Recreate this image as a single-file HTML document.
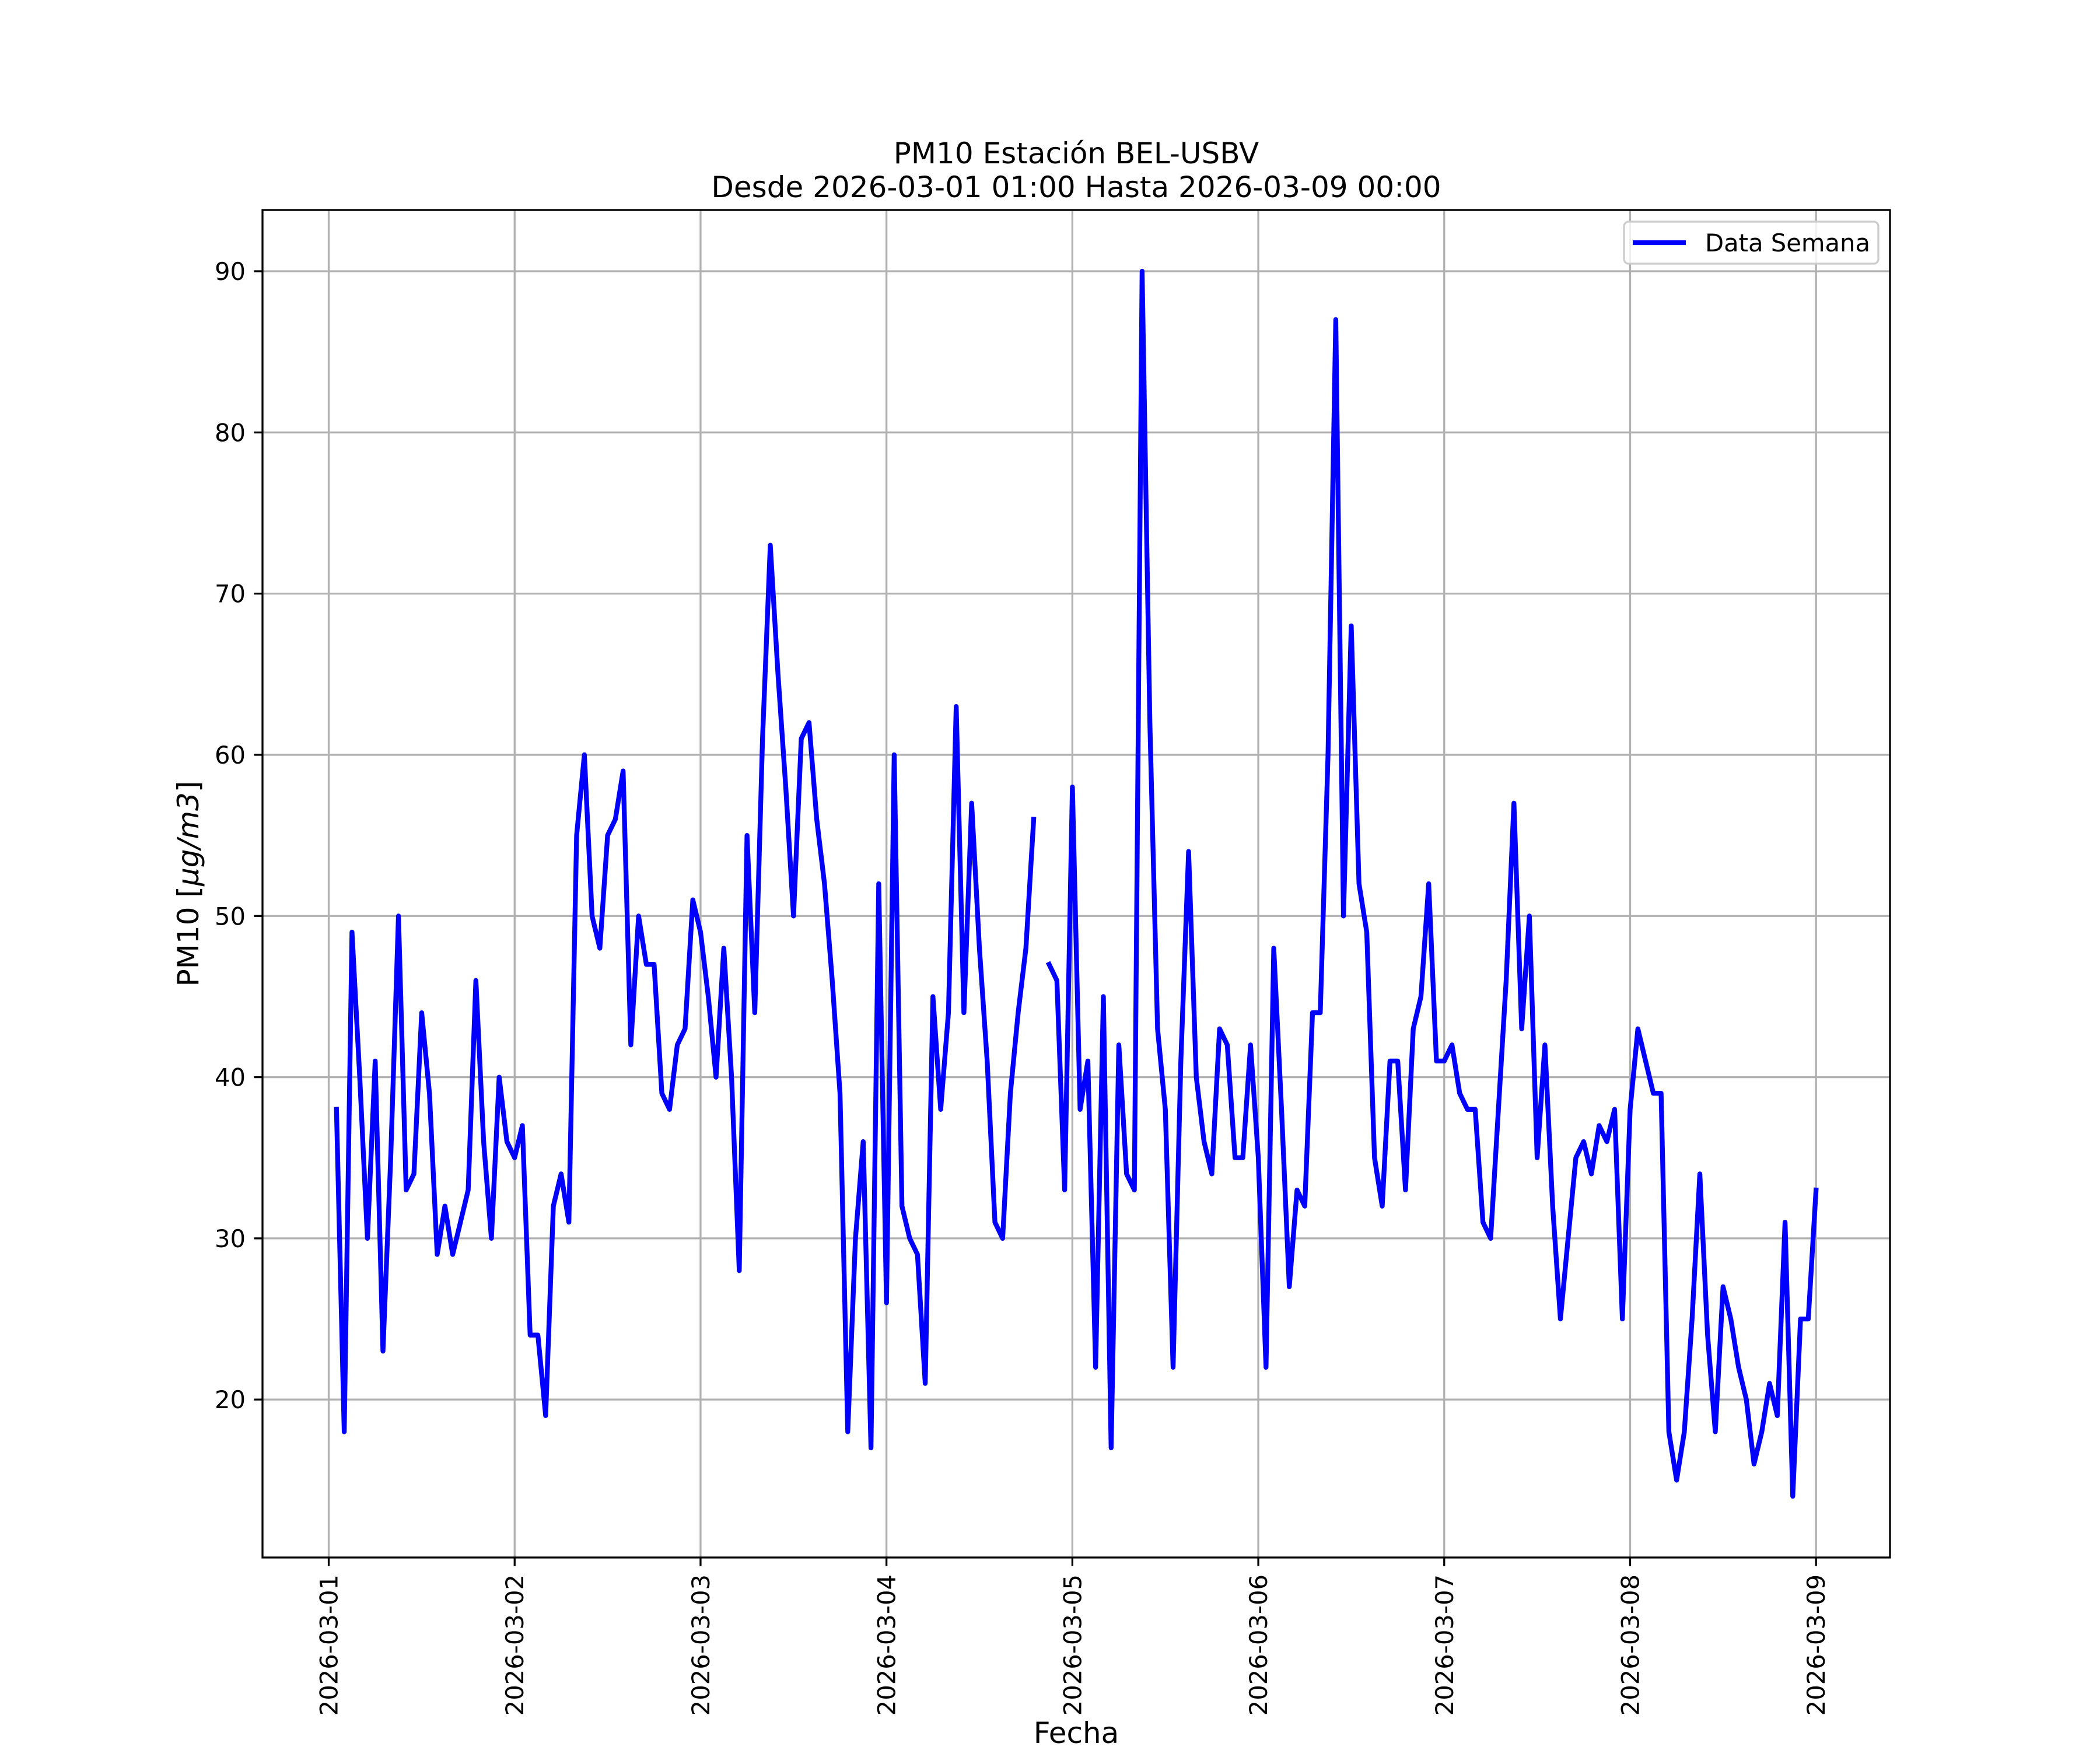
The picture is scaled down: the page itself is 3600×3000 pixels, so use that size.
<!DOCTYPE html>
<html><head><meta charset="utf-8"><style>
html,body{margin:0;padding:0;background:#fff;}
svg{display:block;font-family:"DejaVu Sans","Liberation Sans",sans-serif;}
</style></head><body>
<svg id="chart" width="3600" height="3000" viewBox="0 0 3600 3000" xmlns="http://www.w3.org/2000/svg">
<rect x="0" y="0" width="3600" height="3000" fill="#fff"/>
<g id="grid"></g>
<g id="series"></g>
<g id="axes"></g>
<text x="1845" y="280" font-size="50" text-anchor="middle">PM10 Estación BEL-USBV</text>
<text x="1845" y="338" font-size="50" text-anchor="middle">Desde 2026-03-01 01:00 Hasta 2026-03-09 00:00</text>
<text x="1845" y="2988" font-size="50" text-anchor="middle">Fecha</text>
<text transform="translate(340,1515) rotate(-90)" font-size="50" text-anchor="middle">PM10 [<tspan font-style="italic">μg/m3</tspan>]</text>
<g>
<rect x="2784" y="380" width="436" height="72" rx="8" fill="#fff" fill-opacity="0.8" stroke="#cccccc" stroke-width="3.3"/>
<line x1="2799" y1="416" x2="2890" y2="416" stroke="#0000ff" stroke-width="8.3"/>
<text x="2923" y="431" font-size="41.7">Data Semana</text>
</g>
</svg>
<script>
const yTicks=[20,30,40,50,60,70,80,90];
const xTickLabels=["2026-03-01","2026-03-02","2026-03-03","2026-03-04","2026-03-05","2026-03-06","2026-03-07","2026-03-08","2026-03-09"];
const startHour=1;
const pm10Values=[38,18,49,40,30,41,23,35,50,33,34,44,39,29,32,29,31,33,46,36,30,40,36,35,
37,24,24,19,32,34,31,55,60,50,48,55,56,59,42,50,47,47,39,38,42,43,51,49,
45,40,48,40,28,55,44,61,73,65,58,50,61,62,56,52,46,39,18,30,36,17,52,26,
60,32,30,29,21,45,38,44,63,44,57,48,41,31,30,39,44,48,56,null,47,46,33,58,
38,41,22,45,17,42,34,33,90,62,43,38,22,41,54,40,36,34,43,42,35,35,42,35,
22,48,38,27,33,32,44,44,60,87,50,68,52,49,35,32,41,41,33,43,45,52,41,41,
42,39,38,38,31,30,38,46,57,43,50,35,42,32,25,30,35,36,34,37,36,38,25,38,
43,41,39,39,18,15,18,25,34,24,18,27,25,22,20,16,18,21,19,31,14,25,25,33];
const L=450,R=3240,T=360,B=2670;
const xMinH=-8.55,xMaxH=201.55,yMin=10.2,yMax=93.8;
function xs(h){return L+(h-xMinH)/(xMaxH-xMinH)*(R-L);}
function ys(v){return B-(v-yMin)/(yMax-yMin)*(B-T);}
const NS="http://www.w3.org/2000/svg";
function mk(tag,attrs,parent){const e=document.createElementNS(NS,tag);for(const k in attrs)e.setAttribute(k,attrs[k]);parent.appendChild(e);return e;}
const grid=document.getElementById('grid'),axes=document.getElementById('axes'),series=document.getElementById('series');
yTicks.forEach(v=>{
  const y=ys(v);
  const g=mk('line',{x1:L,x2:R,y1:y,y2:y,stroke:'#b0b0b0','stroke-width':3.3},grid);
  
  
  mk('line',{x1:L-14.6,x2:L,y1:y,y2:y,stroke:'#000','stroke-width':3.3},axes);
  const t=mk('text',{x:L-29,y:y+15,'font-size':41.7,'text-anchor':'end'},axes);
  
  
  t.textContent=v;
});
xTickLabels.forEach((lab,i)=>{
  const x=xs(i*24);
  const g=mk('line',{x1:x,x2:x,y1:T,y2:B,stroke:'#b0b0b0','stroke-width':3.3},grid);
  
  
  mk('line',{x1:x,x2:x,y1:B,y2:B+14.6,stroke:'#000','stroke-width':3.3},axes);
  const t=mk('text',{transform:'translate('+(x+15)+','+(B+29)+') rotate(-90)','font-size':41.7,'text-anchor':'end'},axes);
  
  
  t.textContent=lab;
});
const frame=mk('rect',{x:L,y:T,width:R-L,height:B-T,fill:'none',stroke:'#000','stroke-width':3.3},axes);


let d='',pen=false;
pm10Values.forEach((v,i)=>{
  if(v===null){pen=false;return;}
  const x=xs(startHour+i),y=ys(v);
  d+=(pen?'L':'M')+x.toFixed(1)+' '+y.toFixed(1)+' ';
  pen=true;
});
const p=mk('path',{d:d,fill:'none',stroke:'#0000ff','stroke-width':8.3,'stroke-linejoin':'round','stroke-linecap':'square'},series);


</script>
</body></html>
